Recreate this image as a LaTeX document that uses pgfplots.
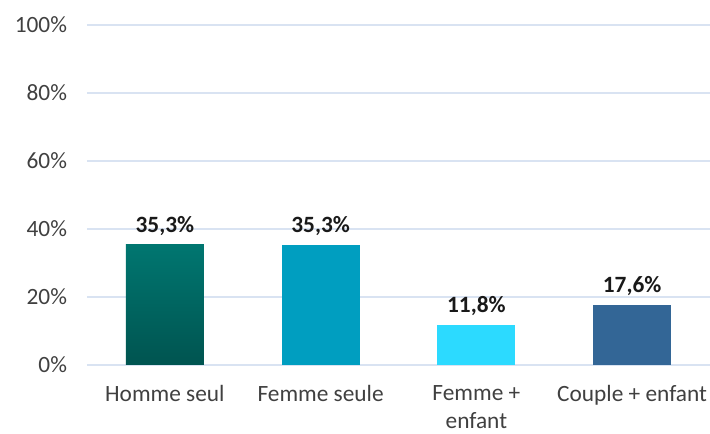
\documentclass[border=0pt]{standalone}
\usepackage{pgfplots}
\pgfplotsset{compat=1.18}
\usepackage{fontspec}
\setmainfont{Carlito}
\definecolor{gridc}{RGB}{217,227,242}
\definecolor{tealtop}{RGB}{0,118,112}
\definecolor{tealbot}{RGB}{0,84,80}
\definecolor{cyanb}{RGB}{0,158,192}
\definecolor{lightb}{RGB}{44,218,255}
\definecolor{navyb}{RGB}{51,102,150}
\definecolor{txt}{RGB}{64,64,64}
\begin{document}
\fontsize{17.5}{21}\selectfont
\begin{tikzpicture}
\begin{axis}[
  scale only axis,
  width=467.25pt, height=255pt,
  xmin=-0.5, xmax=3.5,
  ymin=0, ymax=100,
  axis line style={draw=none},
  major tick length=0pt,
  ymajorgrids,
  grid style={gridc, line width=0.9pt},
  ytick={0,20,40,60,80,100},
  yticklabels={0\%,20\%,40\%,60\%,80\%,100\%},
  yticklabel style={xshift=-9pt},
  xtick={0,1,2,3},
  xticklabels={Homme seul, Femme seule, {Femme +\\enfant}, Couple + enfant},
  xticklabel style={align=center, yshift=-9.5pt, text depth=0pt},
  ybar, bar width=0.5, bar shift=0pt,
  nodes near coords,
  point meta=explicit symbolic,
  every node near coord/.append style={font=\bfseries, text=black!90, anchor=south, yshift=1pt},
  tick label style={font=\fontsize{17.5}{21}\selectfont, text=txt},
]
\addplot[draw=none, top color=tealtop, bottom color=tealbot] coordinates {(0,35.3) [35,3\%]};
\addplot[draw=none, fill=cyanb] coordinates {(1,35.3) [35,3\%]};
\addplot[draw=none, fill=lightb] coordinates {(2,11.8) [11,8\%]};
\addplot[draw=none, fill=navyb] coordinates {(3,17.6) [17,6\%]};
\end{axis}
\pgfresetboundingbox
\path (-65.25pt,-51.75pt) rectangle (467.25pt,273.75pt);
\end{tikzpicture}
\end{document}
